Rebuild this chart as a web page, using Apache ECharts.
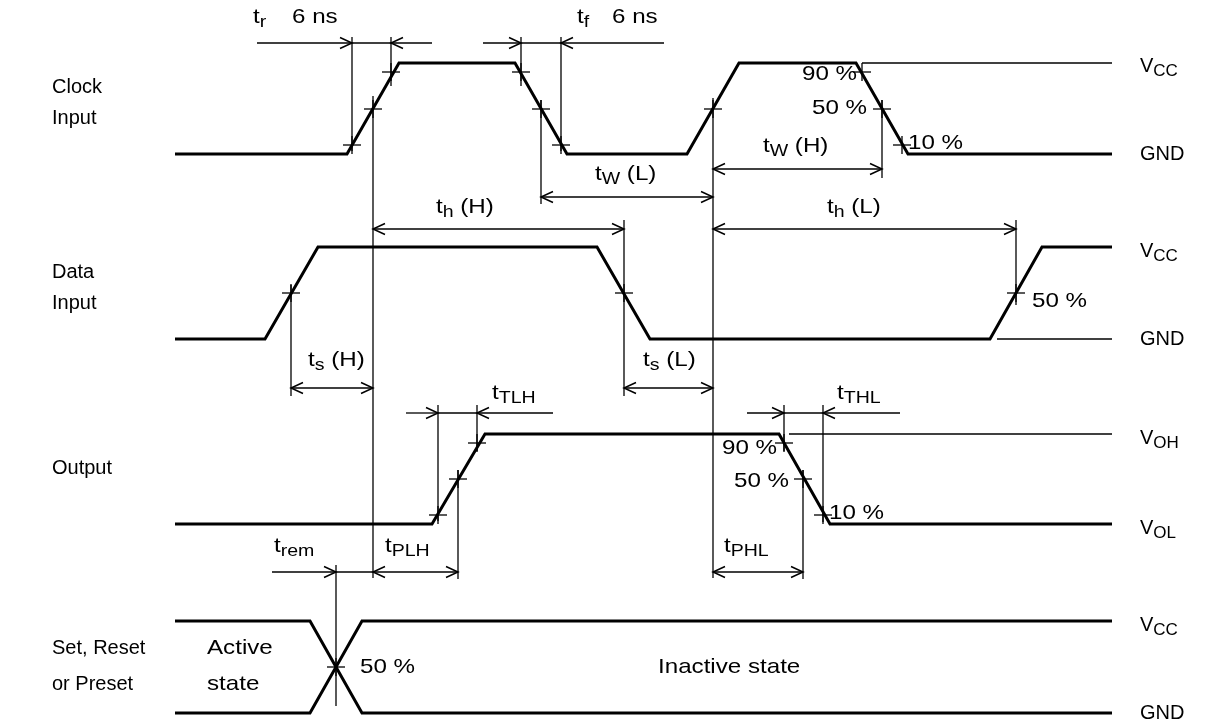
<!DOCTYPE html>
<html><head><meta charset="utf-8">
<script src="https://cdn.jsdelivr.net/npm/echarts@6/dist/echarts.min.js"></script>
<style>html,body{margin:0;padding:0;background:#fff}#c{width:1205px;height:724px}</style>
</head><body><div id="c"></div>
<script>
// ---- waveform data: [time, level] in diagram units ----
const clockWave  = [[175,154],[347,154],[399,63],[515,63],[567,154],[687,154],[739,63],[856,63],[908,154],[1112,154]];
const dataWave   = [[175,339],[265,339],[318,247],[597,247],[650,339],[990,339],[1042,247],[1112,247]];
const outputWave = [[175,524],[432,524],[485,434],[779,434],[830,524],[1112,524]];
const setWaveA   = [[175,621],[310,621],[362,713],[1112,713]];
const setWaveB   = [[175,713],[310,713],[362,621],[1112,621]];

// reference level lines [x1,y1,x2,y2]
const refLines = [[862,63,1112,63],[997,339,1112,339],[789,434,1112,434]];

// extension (measurement) lines [x1,y1,x2,y2]
const extLines = [
  [352,37,352,151],[373,96,373,578],[391,37,391,86],
  [521,37,521,86],[541,100,541,204],[561,37,561,151],
  [713,98,713,578],[882,100,882,178],
  [624,220,624,396],[1016,220,1016,305],[291,285,291,396],
  [438,405,438,521],[477,405,477,451],[458,470,458,579],
  [784,405,784,451],[823,405,823,522],[803,470,803,579],
  [336,565,336,706]
];

// threshold crosses [x,y]
const crossPts = [
  [352,145],[373,109],[391,72],
  [521,72],[541,109],[561,145],
  [713,109],
  [862,72],[882,109],[902,145],
  [291,293],[624,293],[1016,293],
  [438,515],[458,479],[477,443],
  [784,443],[803,479],[823,515],
  [336,667]
];

// dimension arrows [x1,x2,y,arrowAtX1,arrowAtX2]
const dimArrows = [
  [257,352,43,0,1],[352,391,43,0,0],[432,391,43,0,1],
  [483,521,43,0,1],[521,561,43,0,0],[664,561,43,0,1],
  [541,713,197,1,1],
  [713,882,169,1,1],
  [373,624,229,1,1],[713,1016,229,1,1],
  [291,373,388,1,1],[624,713,388,1,1],
  [406,438,413,0,1],[438,477,413,0,0],[553,477,413,0,1],
  [747,784,413,0,1],[784,823,413,0,0],[900,823,413,0,1],
  [272,336,572,0,1],[336,373,572,0,0],
  [373,458,572,1,1],[713,803,572,1,1]
];

// texts: main text, sub = subscript, rest = trailing text; kind: L = row label, R = rail label, D = diagram text
const textX     = [52,52,52,52,52,52,52, 1140,1140,1140,1140,1140,1140,1140,1140,
                   253,292,577,612, 595,763,436,827,308,643,492,837,274,385,724,
                   857,867,908, 1032, 777,789,829, 360, 207,207,658];
const textY     = [87,118,272,303,468,648,684, 66,154,251,339,438,528,625,713,
                   17,17,17,17, 174,146,207,207,360,360,393,393,546,546,546,
                   74,108,143, 301, 448,481,513, 667, 648,684,667];
const textMain  = ['Clock','Input','Data','Input','Output','Set, Reset','or Preset',
                   'V','GND','V','GND','V','V','V','GND',
                   't','6 ns','t','6 ns','t','t','t','t','t','t','t','t','t','t','t',
                   '90 %','50 %','10 %','50 %','90 %','50 %','10 %','50 %',
                   'Active','state','Inactive state'];
const textSub   = ['','','','','','','',
                   'CC','','CC','','OH','OL','CC','',
                   'r','','f','','W','W','h','h','s','s','TLH','THL','rem','PLH','PHL',
                   '','','','','','','','','','',''];
const textRest  = ['','','','','','','','','','','','','','','',
                   '','','','',' (L)',' (H)',' (H)',' (L)',' (H)',' (L)','','','','','',
                   '','','','','','','','','','',''];
const textAlign = ['l','l','l','l','l','l','l','l','l','l','l','l','l','l','l',
                   'l','l','l','l','l','l','l','l','l','l','l','l','l','l','l',
                   'r','r','l','l','r','r','l','l','l','l','l'];
const textKind  = ['L','L','L','L','L','L','L','R','R','R','R','R','R','R','R',
                   'D','D','D','D','D','D','D','D','D','D','D','D','D','D','D',
                   'D','D','D','D','D','D','D','D','D','D','D'];

const FONT = '"Liberation Sans", Arial, Helvetica, sans-serif';
const K = '#000';

function lineSeries(d, w) {
  return {type:'line', data:d, symbol:'none', silent:true, animation:false,
          lineStyle:{color:K, width:w, join:'miter'}, z:3};
}

const alignMap = {l:'left', r:'right', c:'center'};
const kindStyle = {
  L:{size:20, sub:16, sx:1.0},
  R:{size:20, sub:17, sx:1.0},
  D:{size:21, sub:17, sx:1.15}
};

const option = {
  backgroundColor:'#fff',
  animation:false,
  grid:{left:0,right:0,top:0,bottom:0},
  xAxis:{type:'value',min:0,max:1205,show:false},
  yAxis:{type:'value',min:0,max:724,inverse:true,show:false},
  series:[
    lineSeries(clockWave,3), lineSeries(dataWave,3), lineSeries(outputWave,3),
    lineSeries(setWaveA,3), lineSeries(setWaveB,3),
    {type:'custom', clip:false, silent:true, z:2, data:refLines.concat(extLines),
     renderItem:function(p,api){
       const a=api.coord([api.value(0),api.value(1)]), b=api.coord([api.value(2),api.value(3)]);
       return {type:'line', shape:{x1:a[0],y1:a[1],x2:b[0],y2:b[1]}, style:{stroke:K,lineWidth:1.3}};
     }},
    {type:'custom', clip:false, silent:true, z:4, data:crossPts,
     renderItem:function(p,api){
       const c=api.coord([api.value(0),api.value(1)]);
       return {type:'group', children:[
         {type:'line', shape:{x1:c[0]-9,y1:c[1],x2:c[0]+9,y2:c[1]}, style:{stroke:K,lineWidth:1.3}},
         {type:'line', shape:{x1:c[0],y1:c[1]-9,x2:c[0],y2:c[1]+9}, style:{stroke:K,lineWidth:1.3}}
       ]};
     }},
    {type:'custom', clip:false, silent:true, z:2, data:dimArrows,
     renderItem:function(p,api){
       const a=api.coord([api.value(0),api.value(2)]), b=api.coord([api.value(1),api.value(2)]);
       const kids=[{type:'line', shape:{x1:a[0],y1:a[1],x2:b[0],y2:b[1]}, style:{stroke:K,lineWidth:1.3}}];
       function head(pt, dir){
         kids.push({type:'polyline', shape:{points:[[pt[0]-dir*12,pt[1]-5.5],[pt[0],pt[1]],[pt[0]-dir*12,pt[1]+5.5]]},
                    style:{stroke:K,lineWidth:1.5,fill:null}});
       }
       const dir = b[0]>a[0]?1:-1;
       if (api.value(3)) head(a,-dir);
       if (api.value(4)) head(b,dir);
       return {type:'group', children:kids};
     }},
    {type:'custom', clip:false, silent:true, z:5,
     data:textX.map(function(x,i){return [x,textY[i]];}),
     renderItem:function(p,api){
       const i=p.dataIndex;
       const ks=kindStyle[textKind[i]];
       const c=api.coord([api.value(0),api.value(1)]);
       let s='{n|'+textMain[i]+'}';
       if (textSub[i]) s+='{s|'+textSub[i]+'}';
       if (textRest[i]) s+='{n|'+textRest[i]+'}';
       const h=ks.size;
       return {type:'text', x:c[0], y:c[1]-h/2, scaleX:ks.sx,
         style:{text:s, align:alignMap[textAlign[i]], verticalAlign:'top', fill:K,
           font:h+'px '+FONT,
           rich:{
             n:{fontSize:h, fontFamily:FONT, fill:K, lineHeight:h, verticalAlign:'top'},
             s:{fontSize:ks.sub, fontFamily:FONT, fill:K, lineHeight:h/2+ks.sub/2+5, verticalAlign:'bottom'}
           }}};
     }}
  ]
};
const chart = echarts.init(document.getElementById('c'));
chart.setOption(option);
</script></body></html>
